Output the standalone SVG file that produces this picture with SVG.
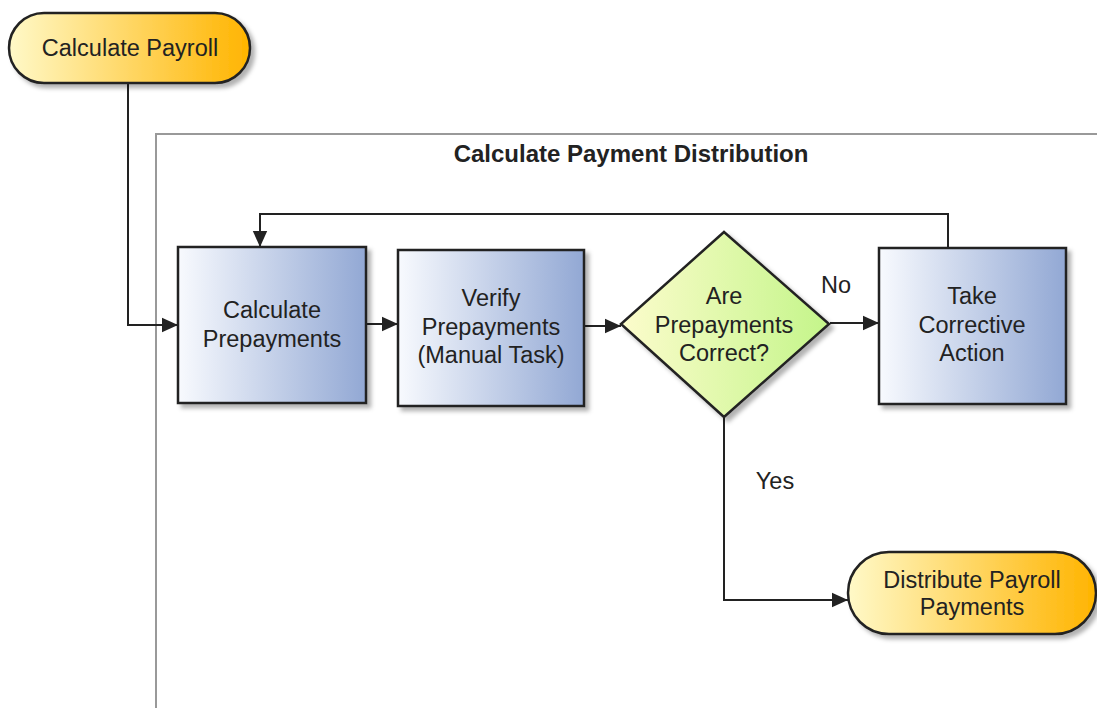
<svg xmlns="http://www.w3.org/2000/svg" width="1097" height="708" viewBox="0 0 1097 708">
<style>
.t{font-family:"Liberation Sans",Arial,sans-serif;font-size:23.5px;fill:#222;text-anchor:middle}
.b{font-weight:bold;font-size:24px}
.c{fill:none;stroke:#222;stroke-width:2}
.n{stroke:#222;stroke-width:2.5}
</style>
<defs>
<linearGradient id="gy" x1="0" y1="0" x2="1" y2="0"><stop offset="0" stop-color="#FFF9C8"/><stop offset="1" stop-color="#FFB400"/></linearGradient>
<linearGradient id="gb" x1="0" y1="0" x2="1" y2="0"><stop offset="0" stop-color="#F8FAFE"/><stop offset="1" stop-color="#92A8D4"/></linearGradient>
<linearGradient id="gg" x1="0" y1="0" x2="1" y2="0"><stop offset="0" stop-color="#FCFCCC"/><stop offset="1" stop-color="#C4F58A"/></linearGradient>
<filter id="sh" x="-10%" y="-10%" width="130%" height="130%"><feDropShadow dx="4" dy="4" stdDeviation="2" flood-color="#000" flood-opacity="0.3"/></filter>
<marker id="a" viewBox="0 0 10 10" refX="10" refY="5" markerWidth="16" markerHeight="16" markerUnits="userSpaceOnUse" orient="auto"><path d="M0,0.5L10,5L0,9.5z" fill="#222"/></marker>
</defs>
<rect width="1097" height="708" fill="#fff"/>
<g id="container">
<path d="M156,708V134H1097" fill="none" stroke="#999" stroke-width="2"/>
<text class="t b" x="631" y="162">Calculate Payment Distribution</text>
</g>
<g id="connectors">
<path class="c" d="M128,83V325H178" marker-end="url(#a)"/>
<path class="c" d="M366,324H398" marker-end="url(#a)"/>
<path class="c" d="M584,326H621" marker-end="url(#a)"/>
<path class="c" d="M830,323H879" marker-end="url(#a)"/>
<path class="c" d="M948,248V214H260V247" marker-end="url(#a)"/>
<path class="c" d="M724,417V600H848" marker-end="url(#a)"/>
<text class="t" x="836" y="293">No</text>
<text class="t" x="775" y="489">Yes</text>
</g>
<g id="calculate-payroll">
<rect x="9" y="13" width="241" height="70" rx="35" fill="url(#gy)" class="n" filter="url(#sh)"/>
<text class="t" x="130" y="56">Calculate Payroll</text>
</g>
<g id="calculate-prepayments">
<rect x="178" y="247" width="188" height="156" fill="url(#gb)" class="n" filter="url(#sh)"/>
<text class="t" x="272" y="318">Calculate</text>
<text class="t" x="272" y="347">Prepayments</text>
</g>
<g id="verify-prepayments">
<rect x="398" y="250" width="186" height="156" fill="url(#gb)" class="n" filter="url(#sh)"/>
<text class="t" x="491" y="306">Verify</text>
<text class="t" x="491" y="335">Prepayments</text>
<text class="t" x="491" y="363">(Manual Task)</text>
</g>
<g id="are-prepayments-correct">
<path d="M724,232L829,324L724,417L621,324Z" fill="url(#gg)" class="n" filter="url(#sh)"/>
<text class="t" x="724" y="304">Are</text>
<text class="t" x="724" y="333">Prepayments</text>
<text class="t" x="724" y="361">Correct?</text>
</g>
<g id="take-corrective-action">
<rect x="879" y="248" width="187" height="156" fill="url(#gb)" class="n" filter="url(#sh)"/>
<text class="t" x="972" y="304">Take</text>
<text class="t" x="972" y="333">Corrective</text>
<text class="t" x="972" y="361">Action</text>
</g>
<g id="distribute-payroll-payments">
<rect x="848" y="552" width="248" height="82" rx="41" fill="url(#gy)" class="n" filter="url(#sh)"/>
<text class="t" x="972" y="588">Distribute Payroll</text>
<text class="t" x="972" y="615">Payments</text>
</g>
</svg>
